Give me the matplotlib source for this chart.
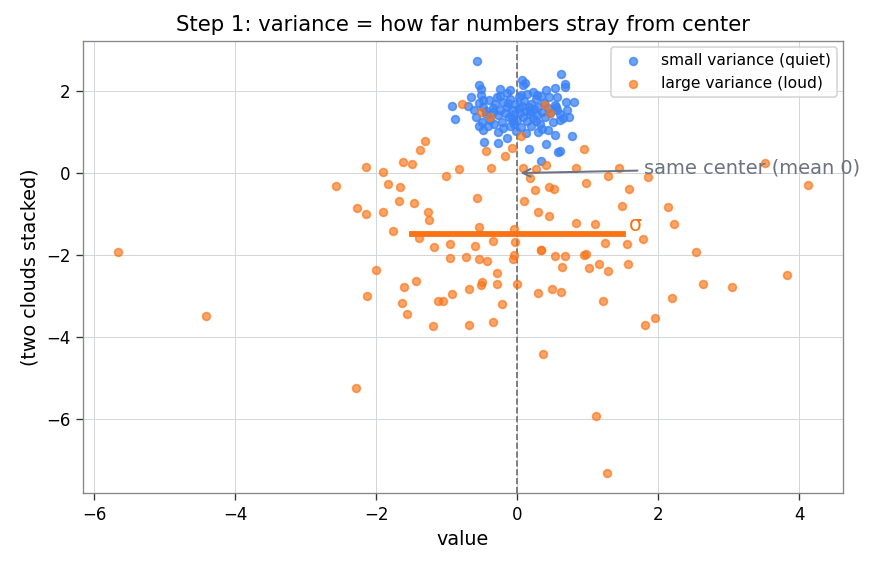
import numpy as np
import matplotlib.pyplot as plt

plt.rcParams['font.family'] = ['DejaVu Sans']

# small-variance cloud (blue)
quiet_x = [-0.57, -0.55, 0.62, 0.68, -0.92, -0.89, -0.47, -0.28, -0.48, 0.78, 0.33, 0.58,
           0.07, 0.11, -0.52, -0.24, -0.10, -0.49, -0.29, -0.13, 0.08, 0.53, 0.41, 0.68,
           0.28, 0.14, 0.57, 0.69, 0.81, 0.54, 0.02, -0.54, -0.27, -0.15, -0.05, -0.34,
           -0.07, 0.44, 0.54, 0.16, 0.41, 0.60, 0.73, 0.61, 0.30, 0.57,
           -0.62, -0.55, -0.48, -0.45, -0.40, -0.38, -0.35, -0.31, -0.28, -0.25, -0.22, -0.20,
           -0.18, -0.15, -0.12, -0.10, -0.08, -0.05, -0.03, 0.00, 0.02, 0.04, 0.06, 0.08,
           0.10, 0.12, 0.14, 0.16, 0.18, 0.20, 0.22, 0.24, 0.26, 0.28, 0.30, 0.32,
           0.35, 0.38, 0.40, 0.43, 0.46, 0.50, 0.55, 0.60, -0.58, -0.50, -0.42, -0.33,
           -0.20, -0.10, 0.05, 0.20, 0.35, -0.65, -0.52, -0.15, 0.05, 0.22, 0.45, -0.70,
           0.65, 0.70, -0.02, 0.12, -0.25, 0.33, -0.44, 0.18, -0.06, 0.27]
quiet_y = [2.74, 2.15, 2.42, 2.18, 1.64, 1.32, 0.76, 0.73, 1.05, 0.90, 0.29, 0.51,
           2.27, 2.20, 2.05, 2.05, 2.03, 1.78, 1.86, 1.71, 2.15, 2.07, 2.03, 2.10,
           1.91, 1.93, 1.87, 1.74, 1.74, 1.66, 1.87, 1.15, 1.01, 0.86, 1.21, 1.50,
           1.34, 1.05, 0.93, 0.58, 0.71, 0.54, 1.38, 1.30, 1.01, 1.54,
           1.55, 1.72, 1.62, 1.45, 1.78, 1.30, 1.60, 1.68, 1.42, 1.55, 1.25, 1.74,
           1.48, 1.62, 1.38, 1.82, 1.55, 1.45, 1.70, 1.30, 1.58, 1.48, 1.65, 1.38,
           1.76, 1.52, 1.28, 1.62, 1.45, 1.70, 1.35, 1.56, 1.80, 1.42, 1.62, 1.20,
           1.50, 1.72, 1.36, 1.58, 1.46, 1.25, 1.62, 1.44, 1.38, 1.25, 1.15, 1.20,
           1.10, 1.15, 1.12, 1.15, 1.08, 1.85, 1.90, 1.95, 1.92, 1.98, 1.85, 1.65,
           1.35, 1.55, 1.02, 0.98, 1.88, 1.88, 1.52, 1.52, 1.28, 1.27]

# large-variance cloud (orange)
loud_x = [-5.66, -4.41, -2.29, -2.57, -2.14, -2.27, -2.14, -1.91, -2.01, -2.13, -1.84, -1.90,
          -1.66, -1.68, -1.47, -1.76, -1.62, -1.50, -1.60, -1.63, -1.56, -1.44, -1.39, -1.38,
          -1.31, -1.26, -1.25, -1.18, -1.20, -1.12, -1.05, -1.01, -0.83, -0.78,
          -0.95, -0.60, -0.57, -0.55, -0.96, -0.73, -0.55, -0.43, -0.35, -0.03, -0.05, -0.06, -0.04,
          -0.92, -0.69, -0.50, -0.51, -0.29, -0.29, -0.22, -0.68, -0.34, -0.01,
          0.30, 0.49, 0.62, 0.63, 1.02, 1.16, 1.28, 1.57, 1.21, 1.81, 1.95, 0.36, 1.12, 1.27,
          0.34, 0.54, 0.67, 0.94, 0.97, 1.25, 1.55, 1.78,
          -0.44, -0.17, -0.08, 0.05, 0.95, 0.41, 0.08, 0.26, -0.37, 0.84, 1.44, 1.85, 1.28,
          0.18, 0.97, 0.25, 0.45, 0.52, 1.59, 0.10, 0.30, 0.45, 1.49, 2.14, 2.22, 0.84, 1.10,
          2.19, 0.33, 3.52, 4.13, 2.53, 3.83, 2.64, 3.04, -0.52, -0.39, 0.39, 0.47]
loud_y = [-1.93, -3.50, -5.26, -0.32, 0.15, -0.86, -1.00, -0.95, -2.37, -3.01, -0.27, 0.02,
          -0.34, -0.68, -0.72, -1.42, 0.27, 0.22, -2.79, -3.18, -3.45, -2.64, -1.59, 0.56,
          0.78, -0.95, -1.15, -1.81, -3.74, -3.13, -3.13, -0.08, 0.10, 1.69,
          -1.74, -1.79, -0.60, -1.31, -2.08, -2.06, -2.09, -2.16, -1.66, -1.69, -2.00, -2.09, -1.36,
          -2.95, -2.84, -2.66, -2.74, -2.43, -2.70, -3.20, -3.72, -3.65, -2.70,
          -2.93, -2.84, -2.91, -2.30, -2.31, -2.23, -2.40, -2.23, -3.13, -3.72, -3.55, -4.41, -5.94, -7.34,
          -1.88, -2.03, -2.03, -1.99, -1.98, -1.72, -1.74, -1.62,
          0.54, 0.43, 0.61, 0.90, 0.59, 0.21, 0.13, 0.11, 0.12, 0.13, 0.13, -0.09, -0.07,
          -0.13, -0.23, -0.42, -0.35, -0.38, -0.40, -0.67, -0.95, -1.06, -0.81, -0.84, -1.25, -1.23, -1.25,
          -3.06, -1.87, 0.24, -0.30, -1.93, -2.48, -2.72, -2.79, 1.49, 1.38, 1.66, 1.48]

sigma = 1.5
sigma_y = -1.5

blue = '#3b82f6'
orange = '#f97316'

fig, ax = plt.subplots(figsize=(874 / 120, 567 / 120), dpi=120)
fig.subplots_adjust(left=0.095, right=0.9645, top=0.9277, bottom=0.1305)

ax.scatter(quiet_x, quiet_y, s=22, color=blue, alpha=0.75, label='small variance (quiet)', zorder=3)
ax.scatter(loud_x, loud_y, s=22, color=orange, alpha=0.65, label='large variance (loud)', zorder=3)

ax.axvline(0, color='#6b6b6b', linestyle='--', linewidth=1, zorder=2)
ax.plot([-sigma, sigma], [sigma_y, sigma_y], color=orange, linewidth=3.5, zorder=4)
ax.text(sigma + 0.08, sigma_y + 0.22, 'σ', color=orange, fontsize=12.5, va='center', ha='left')

ax.annotate('same center (mean 0)', xy=(0, 0), xytext=(1.8, 0.12),
            color='#6b7280', fontsize=11.6, va='center', ha='left',
            arrowprops=dict(arrowstyle='->', color='#6b7280', lw=1.2))

ax.set_xlim(-6.16, 4.62)
ax.set_ylim(-7.82, 3.23)
ax.set_xticks([-6, -4, -2, 0, 2, 4])
ax.set_yticks([-6, -4, -2, 0, 2])
ax.grid(True, color='#d3d7dc', linewidth=0.6, zorder=0)
ax.set_axisbelow(True)
for sp in ax.spines.values():
    sp.set_color('#888888')
ax.tick_params(direction='out', length=4, color='#333333', labelsize=10)

ax.set_title('Step 1: variance = how far numbers stray from center', fontsize=12.7)
ax.set_xlabel('value', fontsize=11.5)
ax.set_ylabel('(two clouds stacked)', fontsize=11.5)
ax.legend(loc='upper right', fontsize=9.3, borderaxespad=0.4)

plt.savefig('out.png', dpi=120)
